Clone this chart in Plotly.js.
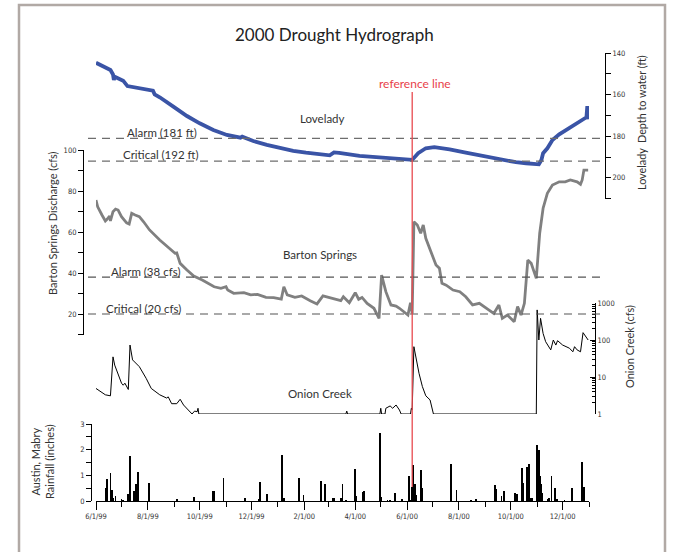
<!DOCTYPE html>
<html>
<head>
<meta charset="utf-8">
<script src="https://cdn.plot.ly/plotly-3.0.1.min.js"></script>
<style>
html,body{margin:0;padding:0;background:#fff;}
#chart{width:676px;height:552px;}
</style>
</head>
<body>
<div id="chart"></div>
<script>
// ---------------- DATA ----------------
// Lovelady well, depth to water (ft)
const lovDates = [
 '1999-06-01','1999-06-11','1999-06-18','1999-06-21','1999-06-22','1999-06-23',
 '1999-07-03','1999-07-08','1999-07-21','1999-08-07','1999-08-09','1999-08-15',
 '1999-08-31','1999-09-16','1999-10-01','1999-10-17','1999-11-02','1999-11-18',
 '1999-11-20','1999-12-03','1999-12-19','2000-01-04','2000-01-19','2000-02-03',
 '2000-02-19','2000-03-02','2000-03-07','2000-03-13','2000-04-06','2000-04-29',
 '2000-05-23','2000-06-07','2000-06-14','2000-06-23','2000-07-03','2000-07-21',
 '2000-08-09','2000-08-29','2000-09-17','2000-10-07','2000-10-19','2000-11-03',
 '2000-11-06','2000-11-08','2000-11-13','2000-11-19','2000-11-27','2000-12-09',
 '2000-12-21','2000-12-29','2000-12-30','2000-12-31'];
const lovDepth = [
 144.7,146.9,148.2,150.3,153.0,151.4,
 153.3,155.9,156.7,158.1,159.9,161.3,
 165.8,170.3,173.8,177.0,179.4,180.7,
 180.2,182.3,184.2,185.8,187.0,187.9,
 188.6,189.2,187.8,188.0,189.5,190.1,
 190.6,191.4,188.2,185.8,185.3,186.3,
 187.9,189.5,190.9,192.5,193.0,193.5,
 191.4,188.2,185.8,181.8,179.1,176.2,
 173.0,170.9,165.5,171.9];

// Barton Springs discharge (cfs)
const bsDates = [
 '1999-06-01','1999-06-03','1999-06-08','1999-06-12','1999-06-14','1999-06-17',
 '1999-06-18','1999-06-21','1999-06-24','1999-06-27','1999-07-01','1999-07-07',
 '1999-07-10','1999-07-13','1999-07-17','1999-07-22','1999-07-27','1999-08-03',
 '1999-08-15','1999-08-25','1999-09-02','1999-09-04','1999-09-08','1999-09-16',
 '1999-09-24','1999-10-04','1999-10-10','1999-10-18','1999-10-26','1999-11-01',
 '1999-11-03','1999-11-10','1999-11-22','1999-11-30','1999-12-08','1999-12-18',
 '1999-12-27','2000-01-05','2000-01-08','2000-01-12','2000-01-21','2000-01-29',
 '2000-02-08','2000-02-16','2000-02-23','2000-03-06','2000-03-15','2000-03-18',
 '2000-03-25','2000-04-01','2000-04-05','2000-04-09','2000-04-15','2000-04-23',
 '2000-04-29','2000-05-02','2000-05-07','2000-05-13','2000-05-19','2000-05-23',
 '2000-06-02','2000-06-05','2000-06-07','2000-06-09','2000-06-13','2000-06-17',
 '2000-06-20','2000-06-23','2000-06-29','2000-07-05','2000-07-09','2000-07-12',
 '2000-07-17','2000-07-25','2000-08-02','2000-08-09','2000-08-17','2000-08-25',
 '2000-09-05','2000-09-11','2000-09-17','2000-09-21','2000-09-27','2000-10-05',
 '2000-10-09','2000-10-13','2000-10-17','2000-10-21','2000-10-25','2000-10-31',
 '2000-11-04','2000-11-08','2000-11-13','2000-11-19','2000-11-27','2000-12-04',
 '2000-12-10','2000-12-18','2000-12-22','2000-12-24','2000-12-26','2000-12-31'];
const bsFlow = [
 75.6,72.3,68.3,65.4,66.2,67.8,
 65.4,69.9,71.2,70.7,67.5,64.5,
 63.9,69.1,68.3,67.5,65.0,61.0,
 56.1,52.5,49.6,49.8,44.7,41.5,
 38.5,36.6,35.0,33.3,32.5,33.3,
 31.7,30.1,30.4,29.3,29.6,28.1,
 28.0,27.3,33.3,29.3,28.1,28.8,
 26.5,24.9,28.8,27.7,26.5,28.4,
 25.5,30.4,27.2,28.1,25.2,22.8,
 17.9,39.0,30.9,24.4,23.9,22.8,
 19.5,25.5,20.3,65.0,63.4,59.4,
 63.4,56.9,50.4,43.9,42.3,35.0,
 34.1,31.7,30.9,28.4,24.4,25.2,
 22.0,20.3,24.4,17.9,19.5,16.2,
 23.6,19.5,25.2,46.3,44.7,37.4,
 59.4,71.6,78.9,82.9,84.5,84.5,
 85.4,84.5,83.3,85.4,90.2,90.2];

// Onion Creek flow (cfs), log scale (1 = no flow)
const ocDates = [
 '1999-06-01','1999-06-06','1999-06-12','1999-06-18','1999-06-20','1999-06-21',
 '1999-06-23','1999-06-27','1999-07-01','1999-07-03','1999-07-05','1999-07-09',
 '1999-07-11','1999-07-14','1999-07-20','1999-07-22','1999-07-30','1999-08-05',
 '1999-08-15','1999-08-23','1999-08-25','1999-08-29','1999-09-04','1999-09-08',
 '1999-09-12','1999-09-18','1999-09-22','1999-09-25','1999-09-28','1999-09-29',
 '1999-09-30','2000-03-21','2000-03-22','2000-03-23','2000-04-30','2000-05-01',
 '2000-05-02','2000-05-06','2000-05-07','2000-05-12','2000-05-15','2000-05-19',
 '2000-05-23','2000-05-25','2000-06-05','2000-06-06','2000-06-07','2000-06-09',
 '2000-06-11','2000-06-15','2000-06-19','2000-06-23','2000-06-28','2000-07-02',
 '2000-10-31','2000-11-01','2000-11-03','2000-11-05','2000-11-08','2000-11-11',
 '2000-11-17','2000-11-20','2000-11-23','2000-11-25','2000-12-01','2000-12-09',
 '2000-12-13','2000-12-15','2000-12-18','2000-12-22','2000-12-25','2000-12-28',
 '2000-12-31'];
const ocFlow = [
 4.9,4.0,3.3,3.1,11.3,35,
 21,11.3,6.8,6.0,6.8,4.6,
 73,29,21,19,9.2,4.9,
 3.3,2.7,2.9,1.9,1.9,2.5,
 1.75,1.2,1.0,1.2,1.15,1.43,
 1.0,1.0,1.2,1.0,1.0,1.43,
 1.0,1.0,1.43,1.65,1.43,1.75,
 1.28,1.0,1.0,1.43,1.3,66,
 35,12.6,5.5,3.1,2.4,1.0,
 1.0,650,100,385,150,90,
 54,100,73,96,73,60,
 48,66,54,48,158,123,
 100];

// Austin Mabry daily rainfall (inches)
const rainDates = [
 '1999-06-12','1999-06-14','1999-06-18','1999-06-20','1999-06-21','1999-06-24',
 '1999-07-01','1999-07-03','1999-07-09','1999-07-11','1999-07-16','1999-07-18',
 '1999-07-20','1999-08-02','1999-09-04','1999-09-24','1999-09-25','1999-10-16',
 '1999-10-18','1999-10-29','1999-11-23','1999-12-10','1999-12-11','1999-12-19',
 '2000-01-06','2000-01-08','2000-01-26','2000-01-31','2000-02-21','2000-02-25',
 '2000-03-06','2000-03-07','2000-03-15','2000-03-17','2000-03-21','2000-04-01',
 '2000-04-02','2000-04-10','2000-04-11','2000-04-30','2000-05-02','2000-05-09',
 '2000-05-12','2000-05-18','2000-05-26','2000-06-03','2000-06-05','2000-06-07',
 '2000-06-08','2000-06-10','2000-06-12','2000-06-17','2000-06-19','2000-07-23',
 '2000-07-29','2000-08-15','2000-08-21','2000-09-12','2000-09-14','2000-09-20',
 '2000-09-23','2000-10-06','2000-10-08','2000-10-14','2000-10-16','2000-10-20',
 '2000-10-22','2000-10-24','2000-10-26','2000-11-01','2000-11-03','2000-11-04',
 '2000-11-06','2000-11-07','2000-11-14','2000-11-15','2000-11-18','2000-11-22',
 '2000-11-24','2000-12-03','2000-12-12','2000-12-24','2000-12-26'];
const rainInches = [
 0.52,0.87,1.10,0.42,0.13,0.18,
 0.07,0.03,0.26,1.74,0.40,0.65,
 1.13,0.69,0.08,0.14,0.09,0.38,
 0.38,0.91,0.13,0.09,0.74,0.27,
 1.78,0.13,0.91,0.22,0.79,0.65,
 0.13,0.13,0.12,0.65,0.05,1.26,
 0.18,0.35,0.39,2.65,0.16,0.03,
 0.03,0.31,0.06,0.97,0.05,0.55,
 1.39,0.65,0.22,1.19,0.52,1.43,
 0.42,0.03,0.09,0.61,0.48,0.18,
 0.39,0.31,0.26,1.29,0.70,1.32,
 1.45,0.13,0.13,2.17,2.00,0.96,
 0.65,0.31,0.09,0.13,0.96,0.52,
 0.09,0.05,0.52,1.52,0.55];

// Thresholds and reference
const lovAlarm = 181, lovCritical = 192;
const bsAlarm = 38, bsCritical = 20;
const referenceDate = '2000-06-07';
const xRange = ['1999-06-01', '2001-01-01'];

// ---------------- LAYOUT HELPERS ----------------
const W = 676, H = 552;
const M = {l: 83, r: 71, t: 53, b: 51};
const PW = W - M.l - M.r, PH = H - M.t - M.b;
const px = v => (v - M.l) / PW;
const py = v => (H - M.b - v) / PH;

const tickFont = {family: 'Liberation Sans Narrow, DejaVu Sans Condensed, Liberation Sans, Arial', size: 7.5, color: '#333'};
const txtFont = (s, c) => ({family: 'Lato, Open Sans, sans-serif', size: s, color: c || '#333'});

const traces = [
  {x: lovDates, y: lovDepth, type: 'scatter', mode: 'lines', xaxis: 'x', yaxis: 'y',
   line: {color: '#3a54a6', width: 3.8}, hoverinfo: 'skip'},
  {x: bsDates, y: bsFlow, type: 'scatter', mode: 'lines', xaxis: 'x', yaxis: 'y2',
   line: {color: '#808080', width: 2.8}, hoverinfo: 'skip'},
  {x: ocDates, y: ocFlow, type: 'scatter', mode: 'lines', xaxis: 'x', yaxis: 'y3',
   line: {color: '#000', width: 1}, hoverinfo: 'skip'},
  {x: rainDates, y: rainInches, type: 'bar', xaxis: 'x', yaxis: 'y4',
   width: 2 * 86400000, marker: {color: '#000', line: {width: 0}}, hoverinfo: 'skip'}
];

const ax = {showgrid: false, zeroline: false, showline: true, linecolor: '#000', linewidth: 1,
            tickcolor: '#000', tickfont: tickFont, ticklen: 5, tickwidth: 1};

const layout = {
  width: W, height: H, margin: M,
  paper_bgcolor: '#fff', plot_bgcolor: 'rgba(0,0,0,0)',
  showlegend: false, hovermode: false, bargap: 0,
  xaxis: Object.assign({}, ax, {
    type: 'date', range: xRange, domain: [px(96), px(589)], anchor: 'y4',
    tick0: '1999-06-01', dtick: 'M2', tickformat: '%-m/%-d/%y', ticks: 'outside', ticklen: 8,
    minor: {dtick: 'M1', tick0: '1999-06-01', ticks: 'outside', ticklen: 5, tickcolor: '#000', showgrid: false}
  }),
  yaxis: Object.assign({}, ax, {
    range: [210, 140], domain: [py(198.6), py(53)], anchor: 'free', position: 1, side: 'right',
    tick0: 140, dtick: 20, ticks: 'outside',
    minor: {dtick: 10, tick0: 140, ticks: 'outside', ticklen: 5, tickcolor: '#000', showgrid: false}
  }),
  yaxis2: Object.assign({}, ax, {
    range: [10, 100], domain: [py(334.5), py(150)], anchor: 'free', position: 0, side: 'left',
    tick0: 0, dtick: 20, ticks: 'outside',
    minor: {dtick: 10, tick0: 0, ticks: 'outside', ticklen: 5, tickcolor: '#000', showgrid: false}
  }),
  yaxis3: Object.assign({}, ax, {
    type: 'log', range: [0, 3], domain: [py(414), py(303)], anchor: 'free', position: px(595), side: 'right',
    dtick: 1, ticks: 'inside', exponentformat: 'none',
    minor: {dtick: 'D1', ticks: 'inside', ticklen: 3, tickcolor: '#000', showgrid: false}
  }),
  yaxis4: Object.assign({}, ax, {
    range: [0, 3], domain: [0, py(424)], anchor: 'free', position: px(91), side: 'left',
    tick0: 0, dtick: 1, ticks: 'outside',
    minor: {dtick: 0.5, tick0: 0, ticks: 'outside', ticklen: 5, tickcolor: '#000', showgrid: false}
  }),
  shapes: [
    // outer frame
    {type: 'rect', xref: 'paper', yref: 'paper', x0: px(19), x1: px(665), y0: py(570), y1: py(5),
     line: {color: '#b1a9a5', width: 2.5}, fillcolor: 'rgba(0,0,0,0)'},
    // threshold lines
    {type: 'line', xref: 'paper', yref: 'y', x0: px(88), x1: 1, y0: lovAlarm, y1: lovAlarm,
     line: {color: '#6e6e6e', width: 1.2, dash: '8px,6px'}},
    {type: 'line', xref: 'paper', yref: 'y', x0: px(88), x1: 1, y0: lovCritical, y1: lovCritical,
     line: {color: '#6e6e6e', width: 1.2, dash: '8px,6px'}},
    {type: 'line', xref: 'paper', yref: 'y2', x0: px(88), x1: px(603), y0: bsAlarm, y1: bsAlarm,
     line: {color: '#555', width: 1.2, dash: '8px,6px'}},
    {type: 'line', xref: 'paper', yref: 'y2', x0: px(88), x1: px(603), y0: bsCritical, y1: bsCritical,
     line: {color: '#555', width: 1.2, dash: '8px,6px'}},
    // reference line
    {type: 'line', xref: 'x', yref: 'paper', x0: referenceDate, x1: referenceDate, y0: py(487), y1: py(92),
     line: {color: '#e84a4f', width: 1.3}}
  ],
  annotations: [
    {text: '2000 Drought Hydrograph', x: px(334), y: py(34), font: txtFont(17, '#222')},
    {text: 'reference line', x: px(415), y: py(83), font: txtFont(12, '#e8414a')},
    {text: 'Lovelady', x: px(322), y: py(118), font: txtFont(11.5)},
    {text: 'Alarm (181 ft)', x: px(162), y: py(132.5), font: txtFont(11.5)},
    {text: 'Critical (192 ft)', x: px(161), y: py(154), font: txtFont(11.5)},
    {text: 'Barton Springs', x: px(320), y: py(255), font: txtFont(11.5)},
    {text: 'Alarm (38 cfs)', x: px(145), y: py(271), font: txtFont(11.5)},
    {text: 'Critical (20 cfs)', x: px(143), y: py(308), font: txtFont(11.5)},
    {text: 'Onion Creek', x: px(320), y: py(393), font: txtFont(11.5)},
    {text: 'Barton Springs Discharge (cfs)', x: px(52), y: py(223), textangle: -90, font: txtFont(11)},
    {text: 'Austin, Mabry<br>Rainfall (inches)', x: px(42), y: py(462), textangle: -90, font: txtFont(11)},
    {text: 'Onion Creek (cfs)', x: px(629), y: py(347), textangle: -90, font: txtFont(11)},
    {text: 'Lovelady  Depth to water (ft)', x: px(641), y: py(123), textangle: -90, font: txtFont(10.8)}
  ].map(a => Object.assign({xref: 'paper', yref: 'paper', showarrow: false, xanchor: 'center', yanchor: 'middle'}, a))
};

Plotly.newPlot('chart', traces, layout, {staticPlot: true, displayModeBar: false});
</script>
</body>
</html>
